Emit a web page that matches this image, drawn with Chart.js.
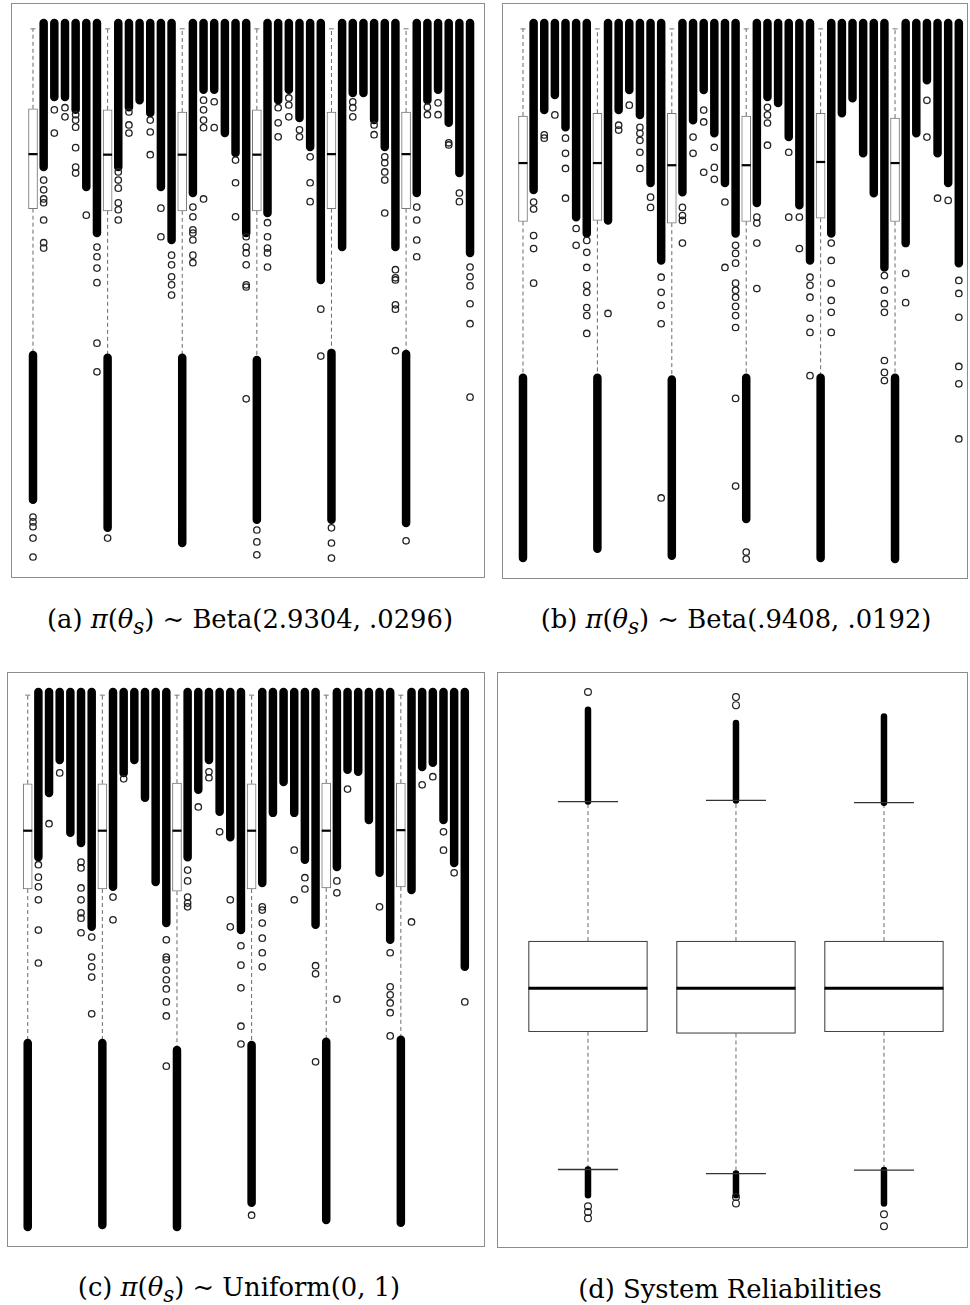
<!DOCTYPE html>
<html>
<head>
<meta charset="utf-8">
<script src="https://cdn.jsdelivr.net/npm/chart.js@4.4.1/dist/chart.umd.min.js"></script>
<style>
body { margin: 0; background: #fff; width: 970px; height: 1305px; position: relative; overflow: hidden; }
.panel { position: absolute; border: 1px solid #8c8c8c; box-sizing: border-box; background: #fff; }
.panel canvas { display: block; }
.cap { position: absolute; font-family: "DejaVu Serif", serif; font-size: 22px; line-height: 1; color: #000; white-space: nowrap; transform: translate(-50%, -50%); }
.cap i { font-family: "DejaVu Serif", serif; }
</style>
</head>
<body>
<div class="panel" style="left:11px;top:3px;width:474px;height:575px"><canvas id="chartA" width="472" height="573"></canvas></div>
<div class="panel" style="left:502px;top:3px;width:466px;height:576px"><canvas id="chartB" width="464" height="574"></canvas></div>
<div class="panel" style="left:7px;top:672px;width:478px;height:575px"><canvas id="chartC" width="476" height="573"></canvas></div>
<div class="panel" style="left:497px;top:672px;width:471px;height:576px"><canvas id="chartD" width="469" height="574"></canvas></div>

<div class="cap" id="capA" style="left:250px;top:622px">(a) <i>π</i>(<i>θ<sub>s</sub></i>) ∼ Beta(2.9304, .0296)</div>
<div class="cap" style="left:736px;top:622px">(b) <i>π</i>(<i>θ<sub>s</sub></i>) ∼ Beta(.9408, .0192)</div>
<div class="cap" style="left:239px;top:1290px">(c) <i>π</i>(<i>θ<sub>s</sub></i>) ∼ Uniform(0, 1)</div>
<div class="cap" style="left:730px;top:1290px">(d) System Reliabilities</div>

<script>
// each group: one full box, then six columns collapsed at 1
const groupCount = 6
const colsPerGroup = 6

// (a) Beta(2.9304, .0296)
const aQ3 = [.841, .839, .835, .839, .835, .835]
const aMed = [.757, .756, .756, .756, .757, .757]
const aQ1 = [.656, .652, .652, .652, .656, .656]
const aWhiskerHi = [.989, .989, .989, .989, .989, .989]
const aWhiskerLo = [.385, .380, .380, .376, .389, .387]
const aLowEnd = [.117, .065, .037, .080, .080, .074]
const aLowOut = [[.085, .076, .067, .046, .011], [.046], [], [.061, .039, .015], [.065, .037, .009], [.041]]
const aColEnd = [
    [.733, .863, .863, .839, .696, .611],
    [.733, .844, .857, .833, .696, .598],
    [.685, .876, .876, .796, .759, .611],
    [.648, .857, .876, .824, .770, .524],
    [.585, .870, .870, .820, .770, .585],
    [.685, .857, .876, .815, .722, .574]
]
const aColOut = [
    [[.709, .691, .674, .667, .635, .593, .583], [.839, .796], [.843, .826], [.830, .820, .807, .769, .733, .722], [.644], [.585, .567, .546, .519, .407, .354]],
    [[.724, .709, .694, .667, .654, .635], [.835, .811, .796], [], [.820, .798, .756], [.657, .604], [.570, .552, .530, .515, .496]],
    [[.659, .641, .617, .611, .598, .570, .556], [.857, .839, .820, .806, .674], [.854, .806], [], [.746, .704, .641], [.604, .585, .574, .552, .515, .511, .304]],
    [[.630, .604, .583, .574, .548], [.843, .815, .789], [.861, .848, .826], [.802, .789], [.752, .704, .669], [.470, .383]],
    [[], [.854, .843, .826], [], [.811, .793], [.752, .741, .724, .709, .648], [.543, .528, .524, .478, .470, .393]],
    [[.659, .635, .598, .567], [.844, .830], [.852, .830], [.778, .774], [.685, .669], [.548, .530, .513, .480, .443, .307]]
]

// (b) Beta(.9408, .0192)
const bQ3 = [.828, .833, .833, .828, .833, .824]
const bMed = [.741, .741, .737, .737, .743, .741]
const bQ1 = [.633, .635, .630, .633, .639, .633]
const bWhiskerHi = [.989, .989, .989, .989, .989, .989]
const bWhiskerLo = [.344, .344, .341, .344, .344, .344]
const bLowEnd = [.011, .028, .015, .083, .011, .009]
const bLowOut = [[], [], [], [.022, .009], [], []]
const bColEnd = [
    [.691, .839, .867, .807, .641, .611],
    [.635, .839, .876, .830, .704, .561],
    [.687, .820, .876, .796, .704, .611],
    [.667, .863, .852, .789, .663, .561],
    [.611, .833, .861, .759, .685, .548],
    [.593, .796, .894, .759, .704, .556]
]
const bColOut = [
    [[.669, .656, .607, .583, .519], [.793, .787], [.830], [.787, .759, .731, .676], [.620, .589], [.598, .576, .548, .515, .502, .474, .459, .426]],
    [[.463], [.811, .802], [.848], [.807, .796, .783, .761, .731], [.678, .659], [.530, .502, .478, .444, .122]],
    [[.659, .644, .635, .593], [.789, .759], [.839, .817, .724], [.770, .733, .711], [.669, .548], [.589, .574, .556, .519, .506, .493, .476, .459, .437, .306, .144]],
    [[.641, .630, .593, .509], [.844, .830, .815, .774], [], [.761, .641], [.641, .583], [.530, .515, .493, .454, .428, .348]],
    [[.593, .561, .519, .487, .465, .428], [], [], [], [], [.533, .506, .481, .465, .376, .354, .339]],
    [[.537, .483], [], [.857, .789], [.676], [.672], [.524, .500, .456, .365, .333, .231]]
]

// (c) Uniform(0, 1)
const cQ3 = [.830, .830, .831, .830, .831, .831]
const cMed = [.743, .743, .743, .743, .743, .744]
const cQ1 = [.635, .635, .631, .635, .637, .639]
const cWhiskerHi = [.994, .994, .994, .994, .994, .994]
const cWhiskerLo = [.350, .350, .337, .346, .352, .356]
const cLowEnd = [.009, .013, .009, .054, .022, .017]
const cLowOut = [[], [], [], [.031], [], []]
const cColEnd = [
    [.694, .813, .874, .739, .720, .565],
    [.639, .850, .874, .804, .648, .572],
    [.694, .819, .874, .778, .731, .559],
    [.646, .776, .833, .776, .689, .569],
    [.676, .856, .852, .763, .665, .541],
    [.633, .861, .869, .763, .683, .491]
]
const cColOut = [
    [[.680, .657, .639, .615, .559, .498], [.756], [.850], [], [.685, .674, .637, .615, .591, .581, .554], [.546, .509, .491, .472, .404]],
    [[.620, .578], [.839], [], [], [], [.541, .509, .504, .485, .467, .450, .426, .400, .307]],
    [[.670, .650, .620, .609, .602], [.787], [.852, .841], [.741], [.615, .565], [.530, .494, .452, .381, .348]],
    [[.602, .596, .572, .544, .517, .491], [], [], [.707, .615], [.656, .635], [.493, .478, .315]],
    [[.650, .628, .431], [.820], [], [], [.602], [.517, .454, .439, .424, .406, .363]],
    [[.574], [.828], [.843], [.741, .707], [.665], [.426]]
]

// (d) system reliabilities
const dQ3 = [.533, .533, .533]
const dMed = [.451, .451, .451]
const dQ1 = [.375, .372, .375]
const dCapHi = [.776, .778, .774]
const dCapLo = [.135, .128, .134]
const dHiEnd = [.936, .913, .924]
const dHiOut = [[.967], [.958, .944], []]
const dLoEnd = [.090, .090, .076]
const dLoOut = [[.071, .061, .050], [.087, .076], [.057, .036]]

const baseOptions = (xMin, xMax, yMin, yMax) => ({
    responsive: false,
    animation: false,
    events: [],
    layout: { padding: 0, autoPadding: false },
    plugins: { legend: { display: false }, tooltip: { enabled: false } },
    scales: {
        x: { type: 'linear', display: false, min: xMin, max: xMax, offset: false },
        y: { type: 'linear', display: false, min: yMin, max: yMax }
    }
})

function groupChart(id, q1, med, q3, hi, lo, lowEnd, lowOut, colEnd, colOut, xRange) {
    const whiskers = [], caps = [], boxes = [], medians = [], dense = [], outliers = []
    for (let g = 0; g < groupCount; g++) {
        const x = g * (colsPerGroup + 1)
        whiskers.push({x: x, y: q3[g]}, {x: x, y: hi[g]}, {x: x, y: null}, {x: x, y: q1[g]}, {x: x, y: lo[g]}, {x: x, y: null})
        caps.push({x: x, y: hi[g]})
        boxes.push({x: x, y: [q1[g], q3[g]]})
        medians.push({x: x, y: med[g]})
        dense.push({x: x, y: lo[g]}, {x: x, y: lowEnd[g]}, {x: x, y: null})
        lowOut[g].forEach(v => outliers.push({x: x, y: v}))
        for (let k = 0; k < colsPerGroup; k++) {
            const xc = x + k + 1
            dense.push({x: xc, y: 1}, {x: xc, y: colEnd[g][k]}, {x: xc, y: null})
            colOut[g][k].forEach(v => outliers.push({x: xc, y: v}))
        }
    }

    new Chart(document.getElementById(id), {
        type: 'scatter',
        data: {
            datasets: [
                { type: 'line', data: whiskers, borderColor: '#6a6a6a', borderWidth: 1, borderDash: [4, 3], pointRadius: 0, order: 6 },
                { type: 'line', data: dense, borderColor: '#000', borderWidth: 8.5, borderCapStyle: 'round', pointRadius: 0, order: 5 },
                { type: 'bar', data: boxes, backgroundColor: '#fff', borderColor: '#777', borderWidth: 1, borderSkipped: false, barThickness: 9, grouped: false, order: 4 },
                { data: medians, pointStyle: 'line', pointRadius: 4.5, pointBorderWidth: 2.2, pointBorderColor: '#000', order: 3 },
                { data: caps, pointStyle: 'line', pointRadius: 2.5, pointBorderWidth: 1, pointBorderColor: '#777', order: 3 },
                { data: outliers, pointStyle: 'circle', pointRadius: 3.2, pointBorderWidth: 1.3, pointBorderColor: '#222', pointBackgroundColor: 'rgba(0,0,0,0)', order: 2 }
            ]
        },
        options: baseOptions(xRange[0], xRange[1], -0.026, 1.035)
    })
}

groupChart('chartA', aQ1, aMed, aQ3, aWhiskerHi, aWhiskerLo, aLowEnd, aLowOut, aColEnd, aColOut, [-1.97, 42.31])
groupChart('chartB', bQ1, bMed, bQ3, bWhiskerHi, bWhiskerLo, bLowEnd, bLowOut, bColEnd, bColOut, [-1.88, 41.77])
groupChart('chartC', cQ1, cMed, cQ3, cWhiskerHi, cWhiskerLo, cLowEnd, cLowOut, cColEnd, cColOut, [-1.85, 42.8])

// (d) three plain boxplots
const dWhiskers = [], dCaps = [], dBoxes = [], dMedians = [], dDense = [], dOutliers = []
for (let i = 0; i < dMed.length; i++) {
    const x = i + 1
    dWhiskers.push({x: x, y: dQ3[i]}, {x: x, y: dCapHi[i]}, {x: x, y: null}, {x: x, y: dQ1[i]}, {x: x, y: dCapLo[i]}, {x: x, y: null})
    dCaps.push({x: x, y: dCapHi[i]}, {x: x, y: dCapLo[i]})
    dBoxes.push({x: x, y: [dQ1[i], dQ3[i]]})
    dMedians.push({x: x, y: dMed[i]})
    dDense.push({x: x, y: dCapHi[i]}, {x: x, y: dHiEnd[i]}, {x: x, y: null}, {x: x, y: dCapLo[i]}, {x: x, y: dLoEnd[i]}, {x: x, y: null})
    dHiOut[i].concat(dLoOut[i]).forEach(v => dOutliers.push({x: x, y: v}))
}

new Chart(document.getElementById('chartD'), {
    type: 'scatter',
    data: {
        datasets: [
            { type: 'line', data: dWhiskers, borderColor: '#6a6a6a', borderWidth: 1, borderDash: [4, 3], pointRadius: 0, order: 6 },
            { type: 'line', data: dDense, borderColor: '#000', borderWidth: 6.5, borderCapStyle: 'round', pointRadius: 0, order: 5 },
            { type: 'bar', data: dBoxes, backgroundColor: '#fff', borderColor: '#444', borderWidth: 1.2, borderSkipped: false, barThickness: 119, grouped: false, order: 4 },
            { data: dMedians, pointStyle: 'line', pointRadius: 59.5, pointBorderWidth: 3, pointBorderColor: '#000', order: 3 },
            { data: dCaps, pointStyle: 'line', pointRadius: 30, pointBorderWidth: 1.3, pointBorderColor: '#333', order: 3 },
            { data: dOutliers, pointStyle: 'circle', pointRadius: 3.4, pointBorderWidth: 1.2, pointBorderColor: '#222', pointBackgroundColor: 'rgba(0,0,0,0)', order: 2 }
        ]
    },
    options: baseOptions(0.392, 3.561, 0, 1)
})

// captions: size the serif text so caption (a) spans the same width as in the figure
const capA = document.getElementById('capA')
const fitSize = 22 * 405 / capA.offsetWidth
document.querySelectorAll('.cap').forEach(el => { el.style.fontSize = fitSize.toFixed(1) + 'px' })
</script>
</body>
</html>
